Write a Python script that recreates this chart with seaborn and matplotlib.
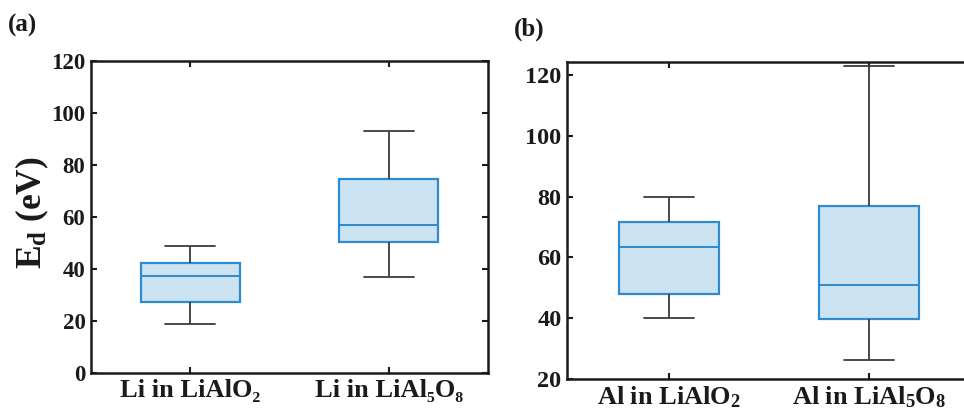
import numpy as np
import pandas as pd
import matplotlib
matplotlib.use("Agg")
import matplotlib.pyplot as plt
import seaborn as sns

# Five-number summaries of the displacement energies (eV)
li_sites = ["Li in LiAlO\u2082", "Li in LiAl\u2085O\u2088"]
li_low = [19.0, 37.0]
li_q1 = [27.5, 50.5]
li_median = [37.5, 57.0]
li_q3 = [42.5, 74.5]
li_high = [49.0, 93.0]

al_sites = [r"Al in LiAlO$_\mathbf{2}$", r"Al in LiAl$_\mathbf{5}$O$_\mathbf{8}$"]
al_low = [40.0, 26.0]
al_q1 = [48.0, 39.5]
al_median = [63.5, 51.0]
al_q3 = [71.5, 77.0]
al_high = [80.0, 123.0]

li_yticks = [0, 20, 40, 60, 80, 100, 120]
al_yticks = [20, 40, 60, 80, 100, 120]


def summary_frame(sites, low, q1, med, q3, high):
    rows = []
    for i, s in enumerate(sites):
        for v in (low[i], q1[i], med[i], q3[i], high[i]):
            rows.append({"site": s, "Ed": v})
    return pd.DataFrame(rows)


sns.set_theme(style="white")
plt.rcParams["font.family"] = ["Liberation Serif", "DejaVu Serif"]
plt.rcParams["font.weight"] = "bold"
plt.rcParams["mathtext.fontset"] = "custom"
plt.rcParams["mathtext.rm"] = "Liberation Serif:bold"
plt.rcParams["mathtext.bf"] = "Liberation Serif:bold"
plt.rcParams["mathtext.it"] = "Liberation Serif:bold"

FILL = "#CCE3F2"
EDGE = "#2F8AD0"
WHISK = "#3C3C3C"
INK = "#1a1a1a"

fig = plt.figure(figsize=(9.64, 4.19), dpi=100)
ax_a = fig.add_axes([91 / 964, 1 - 373 / 419, 397 / 964, 312 / 419])
ax_b = fig.add_axes([567 / 964, 1 - 378.5 / 419, 404 / 964, 316.2 / 419])

panels = [
    (ax_a, summary_frame(li_sites, li_low, li_q1, li_median, li_q3, li_high),
     (0, 120), li_yticks, (-0.5, 1.5), 16.5),
    (ax_b, summary_frame(al_sites, al_low, al_q1, al_median, al_q3, al_high),
     (20, 124.3), al_yticks, (-0.507, 1.507), 17.5),
]

for ax, df, ylim, yticks, xlim, ytick_size in panels:
    sns.boxplot(
        data=df, x="site", y="Ed", ax=ax, width=0.5, whis=np.inf,
        color=FILL, linecolor=WHISK, linewidth=1.3,
        boxprops=dict(facecolor=FILL, edgecolor=EDGE, linewidth=1.6),
        medianprops=dict(color=EDGE, linewidth=1.4),
        whiskerprops=dict(color=WHISK, linewidth=1.3),
        capprops=dict(color=WHISK, linewidth=1.3),
    )
    ax.set_xlim(*xlim)
    ax.set_ylim(*ylim)
    ax.set_yticks(yticks)
    ax.set_xlabel("")
    ax.set_ylabel("")
    for sp in ax.spines.values():
        sp.set_visible(True)
        sp.set_color(INK)
        sp.set_linewidth(1.8)
    ax.tick_params(direction="in", length=4, width=1.5, color=INK,
                   top=True, right=True, bottom=True, left=True, pad=4)
    ax.tick_params(axis="y", labelsize=ytick_size)
    ax.tick_params(axis="x", labelsize=19)
    for lab in ax.get_xticklabels() + ax.get_yticklabels():
        lab.set_fontweight("bold")
        lab.set_color(INK)

ax_a.set_ylabel(r"E$_\mathregular{d}$ (eV)", fontsize=25.5, fontweight="bold",
                color=INK)
ax_a.yaxis.set_label_coords(-40 / 397, 0.513)

fig.text(8 / 964, 1 - 32 / 419, "(a)", fontsize=18, fontweight="bold",
         color=INK)
fig.text(514 / 964, 1 - 36 / 419, "(b)", fontsize=18, fontweight="bold",
         color=INK)

fig.savefig("out.png", dpi=100)
